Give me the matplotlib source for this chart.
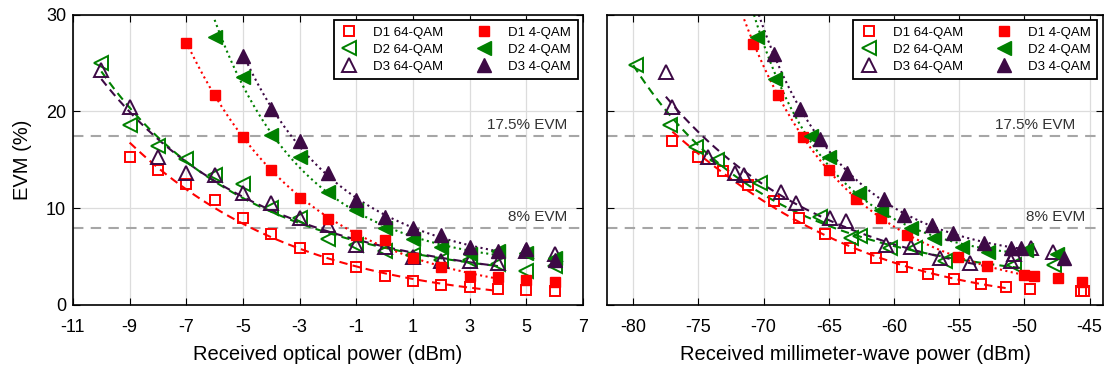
import numpy as np
import matplotlib
matplotlib.use("Agg")
import matplotlib.pyplot as plt

plt.rcParams["font.family"] = ["Liberation Sans", "DejaVu Sans"]
plt.rcParams["axes.unicode_minus"] = False

# ---- left panel: received optical power (dBm) ----
opt_d1_64_x = [-9, -8, -7, -6, -5, -4, -3, -2, -1, 0, 1, 2, 3, 4, 5, 6]
opt_d1_64_y = [15.3, 13.9, 12.5, 10.8, 9.0, 7.3, 5.9, 4.7, 3.9, 3.0, 2.5, 2.1, 1.8, 1.6, 1.5, 1.4]
opt_d1_4_x = [-7, -6, -5, -4, -3, -2, -1, 0, 1, 2, 3, 4, 5, 6]
opt_d1_4_y = [27.1, 21.7, 17.4, 14.0, 11.1, 8.9, 7.2, 6.7, 4.8, 3.9, 3.0, 2.9, 2.6, 2.4]
opt_d2_64_x = [-10, -9, -8, -7, -6, -5, -4, -3, -2, -1, 0, 1, 2, 3, 4, 5, 6]
opt_d2_64_y = [25.0, 18.6, 16.4, 15.1, 13.4, 12.5, 10.0, 9.0, 6.8, 6.2, 5.6, 5.2, 4.6, 4.6, 4.2, 3.5, 4.0]
opt_d2_4_x = [-6, -5, -4, -3, -2, -1, 0, 1, 2, 3, 4, 5, 6]
opt_d2_4_y = [27.7, 23.6, 17.6, 15.3, 11.7, 9.8, 8.0, 6.8, 6.0, 5.3, 5.6, 5.4, 4.8]
opt_d3_64_x = [-10, -9, -8, -7, -6, -5, -4, -3, -2, -1, 0, 1, 2, 3, 4, 5, 6]
opt_d3_64_y = [24.3, 20.5, 15.3, 13.6, 13.4, 11.6, 10.5, 9.0, 8.3, 6.2, 6.0, 5.0, 4.5, 4.5, 4.3, 5.6, 5.3]
opt_d3_4_x = [-5, -4, -3, -2, -1, 0, 1, 2, 3, 4, 5, 6]
opt_d3_4_y = [25.7, 20.3, 16.9, 13.6, 10.8, 9.1, 8.0, 7.2, 6.0, 5.6, 5.8, 4.6]

# ---- right panel: received millimeter-wave power (dBm) ----
mmw_d1_64_x = [-77.0, -75.0, -73.1, -71.2, -69.2, -67.3, -65.3, -63.4, -61.4, -59.4, -57.4, -55.4, -53.3, -51.4, -49.6, -45.7, -45.4]
mmw_d1_64_y = [17.0, 15.3, 13.8, 12.4, 10.7, 9.0, 7.3, 5.9, 4.8, 3.9, 3.2, 2.7, 2.2, 1.8, 1.6, 1.4, 1.4]
mmw_d1_4_x = [-70.8, -68.9, -67.0, -65.0, -62.9, -61.0, -59.0, -55.1, -52.9, -50.0, -49.3, -47.4, -45.6]
mmw_d1_4_y = [27.0, 21.7, 17.4, 14.0, 11.0, 9.0, 7.2, 5.0, 4.0, 3.1, 3.0, 2.8, 2.4]
mmw_d2_64_x = [-79.8, -77.2, -75.2, -73.6, -70.3, -65.7, -63.3, -62.6, -60.3, -58.4, -56.1, -50.8, -47.7]
mmw_d2_64_y = [24.8, 18.6, 16.3, 15.0, 12.6, 9.1, 6.9, 7.1, 5.9, 5.9, 4.5, 4.1, 4.1]
mmw_d2_4_x = [-70.5, -69.1, -66.4, -65.0, -62.7, -61.0, -58.7, -56.9, -54.8, -52.8, -49.9, -47.5]
mmw_d2_4_y = [27.7, 23.4, 17.5, 15.3, 11.6, 9.8, 7.9, 6.9, 6.0, 5.5, 5.7, 5.3]
mmw_d3_64_x = [-77.5, -77.0, -74.3, -72.2, -71.5, -68.7, -67.5, -64.9, -63.7, -60.6, -58.7, -56.5, -54.2, -51.0, -50.8, -49.5, -47.8]
mmw_d3_64_y = [24.1, 20.5, 15.3, 13.6, 13.4, 11.7, 10.5, 9.0, 8.7, 6.2, 6.0, 4.8, 4.3, 4.5, 5.3, 5.9, 5.5]
mmw_d3_4_x = [-69.2, -67.2, -65.7, -63.6, -60.8, -59.2, -57.1, -55.5, -53.1, -51.0, -50.3, -47.0]
mmw_d3_4_y = [25.9, 20.3, 17.2, 13.6, 10.9, 9.3, 8.3, 7.4, 6.4, 5.9, 5.9, 4.8]

labels = ["D1 64-QAM", "D2 64-QAM", "D3 64-QAM", "D1 4-QAM", "D2 4-QAM", "D3 4-QAM"]
thresholds = [17.5, 8]
threshold_labels = ["17.5% EVM", "8% EVM"]

red = "#ff0000"
green = "#008000"
purple = "#3d0a45"
gray = "#a6a6a6"

# (x, y, label, colour, marker, filled, line style, fit range)
left_series = [
    (opt_d1_64_x, opt_d1_64_y, labels[0], red, "s", False, "--", (-9, 4)),
    (opt_d2_64_x, opt_d2_64_y, labels[1], green, "<", False, "--", (-10, 4)),
    (opt_d3_64_x, opt_d3_64_y, labels[2], purple, "^", False, "--", (-10, 4)),
    (opt_d1_4_x, opt_d1_4_y, labels[3], red, "s", True, ":", (-7, 4)),
    (opt_d2_4_x, opt_d2_4_y, labels[4], green, "<", True, ":", (-6, 4)),
    (opt_d3_4_x, opt_d3_4_y, labels[5], purple, "^", True, ":", (-5, 4)),
]
right_series = [
    (mmw_d1_64_x, mmw_d1_64_y, labels[0], red, "s", False, "--", (-77, -51)),
    (mmw_d2_64_x, mmw_d2_64_y, labels[1], green, "<", False, "--", (-80, -50)),
    (mmw_d3_64_x, mmw_d3_64_y, labels[2], purple, "^", False, "--", (-77.5, -53)),
    (mmw_d1_4_x, mmw_d1_4_y, labels[3], red, "s", True, ":", (-71.5, -50)),
    (mmw_d2_4_x, mmw_d2_4_y, labels[4], green, "<", True, ":", (-71.5, -50)),
    (mmw_d3_4_x, mmw_d3_4_y, labels[5], purple, "^", True, ":", (-71.5, -49.5)),
]


def draw_panel(ax, series, xlim, xticks, text_x):
    for thr, tl, tx in zip(thresholds, threshold_labels, text_x):
        ax.axhline(thr, color=gray, ls=(0, (5, 3.5)), lw=1.5, zorder=1)
        ax.text(tx, thr + 0.35, tl, ha="right", va="bottom", fontsize=11, color="#333333")
    handles = []
    for x, y, lab, col, mk, filled, ls, rng in series:
        x = np.array(x)
        y = np.array(y)
        # smooth trend line fitted to the measured points (log domain)
        sel = (x >= rng[0] - 0.6) & (x <= rng[1] + 0.6)
        coef = np.polyfit(x[sel], np.log(y[sel]), 2)
        xf = np.linspace(rng[0], rng[1], 200)
        style = (0, (4, 2.5)) if ls == "--" else ls
        ax.plot(xf, np.exp(np.polyval(coef, xf)), ls=style, color=col, lw=1.5, zorder=2)
        ms = 7.5 if mk == "s" else 10
        if filled:
            h, = ax.plot(x, y, ls="none", marker=mk, ms=ms, mfc=col, mec=col, zorder=3, label=lab)
        else:
            h, = ax.plot(x, y, ls="none", marker=mk, ms=ms - 1 if mk == "s" else ms, mfc="none",
                         mec=col, mew=1.4, zorder=3, label=lab)
        handles.append(h)
    ax.set_xlim(*xlim)
    ax.set_ylim(0, 30)
    ax.set_xticks(xticks)
    ax.set_yticks([0, 10, 20, 30])
    ax.grid(True, color="#dcdcdc", lw=0.9)
    ax.set_axisbelow(True)
    ax.tick_params(direction="in", top=True, right=True, length=5, labelsize=13)
    ax.tick_params(axis="x", pad=10)
    ax.tick_params(axis="y", pad=5)
    for s in ax.spines.values():
        s.set_linewidth(1.2)
    leg = ax.legend(handles=handles, ncol=2, loc="upper right", fontsize=9.5,
                    frameon=True, fancybox=False, edgecolor="black", framealpha=1,
                    handlelength=1.3, handletextpad=1.2, columnspacing=2.4,
                    labelspacing=0.35, borderpad=0.5, borderaxespad=0.4)
    leg.get_frame().set_linewidth(1.3)


fig = plt.figure(figsize=(11.06, 3.70), dpi=100)
ax1 = fig.add_axes([0.066, 0.176, 0.461, 0.784])
ax2 = fig.add_axes([0.549, 0.176, 0.448, 0.784])

draw_panel(ax1, left_series, (-11, 7), list(range(-11, 8, 2)), [6.45, 6.45])
draw_panel(ax2, right_series, (-82, -44), list(range(-80, -44, 5)), [-46.1, -45.3])

ax1.set_xlabel("Received optical power (dBm)", fontsize=14.5, labelpad=7)
ax1.set_ylabel("EVM (%)", fontsize=14.5, labelpad=10)
ax2.set_xlabel("Received millimeter-wave power (dBm)", fontsize=14.5, labelpad=7)
ax2.tick_params(labelleft=False)

fig.savefig("out.png", dpi=100)
